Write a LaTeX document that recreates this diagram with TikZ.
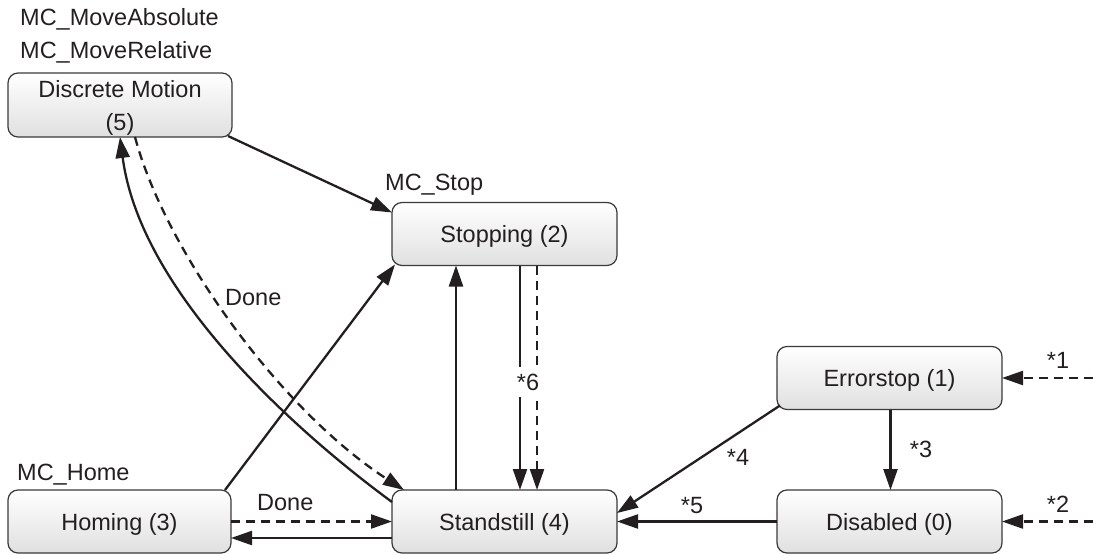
\documentclass[tikz,border=0pt]{standalone}
\usepackage{fontspec}
\setmainfont{Liberation Sans}
\usetikzlibrary{arrows.meta}
\definecolor{ink}{HTML}{231F20}
\definecolor{boxline}{HTML}{3A3A3A}
\definecolor{boxbot}{HTML}{E0E0E0}
\newcommand{\diafont}{\fontsize{23.5}{33}\selectfont}
\begin{document}
\begin{tikzpicture}[x=1pt,y=-1pt,
  statebox/.style={draw=boxline, line width=1.2pt, rounded corners=10pt,
    top color=white, bottom color=boxbot, minimum width=225pt, minimum height=63pt,
    outer sep=0pt, align=center, text=ink, font=\diafont, text depth=0pt},
  arr/.style={draw=ink, line width=2.3pt, -{Triangle[length=21pt,width=14pt]}},
  dashline/.style={dash pattern=on 9pt off 6pt},
  lbl/.style={text=ink, font=\diafont, inner sep=0pt, anchor=base},
  lblw/.style={text=ink, font=\diafont, inner sep=0pt, anchor=base west}]
\useasboundingbox (0,0) rectangle (1093,554);
% states
\node[statebox, minimum width=224pt, minimum height=64pt] (disc) at (120,105) {Discrete Motion\\(5)};
\node[statebox] (stop) at (504.5,234) {Stopping (2)};
\node[statebox] (stand) at (504.5,521.5) {Standstill (4)};
\node[statebox, minimum width=223pt] (hom) at (119.5,521.5) {Homing (3)};
\node[statebox] (err) at (889.5,378) {Errorstop (1)};
\node[statebox] (dis) at (889.5,521.5) {Disabled (0)};
% free ends
\coordinate (in1) at (1093,378);
\coordinate (in2) at (1093,521.5);
% labels
\node[lblw] (lmabs) at (20,25) {MC\_MoveAbsolute};
\node[lblw] (lmrel) at (20,58) {MC\_MoveRelative};
\node[lblw] (lstop) at (385,190) {MC\_Stop};
\node[lblw] (lhome) at (17,480) {MC\_Home};
% connectors
\draw[arr] ([xshift=-4pt,yshift=1pt]disc.south east) -- ([yshift=-10pt]stop.north west);
\draw[arr] ([xshift=-6pt]hom.north east) -- ([xshift=3pt,yshift=1pt]stop.south west);
\draw[arr] ([xshift=-48.5pt]stand.north) -- ([xshift=-48.5pt]stop.south);
\draw[arr] ([xshift=15.5pt]stop.south) -- ([xshift=15.5pt]stand.north);
\draw[arr,dashline] ([xshift=32.5pt]stop.south) -- ([xshift=32.5pt]stand.north);
\draw[arr] ([yshift=19.5pt]stand.west) .. controls (290,427) and (140,290) .. (disc.south);
\draw[arr,dashline] ([xshift=15pt]disc.south) .. controls (165,250) and (280,410) .. ([xshift=12pt]stand.north west);
\draw[arr,dashline] (hom.east) -- (stand.west);
\draw[arr] ([yshift=-16.5pt]stand.west) -- ([yshift=-16.5pt]hom.east);
\draw[arr] ([xshift=3pt,yshift=4pt]err.south west) -- ([yshift=8.5pt]stand.east);
\draw[arr] ([xshift=1pt]err.south) -- ([xshift=1pt]dis.north);
\draw[arr] (dis.west) -- (stand.east);
\draw[arr,dashline] (in1) -- (err.east);
\draw[arr,dashline] (in2) -- (dis.east);
% connector labels
\node[lblw] (ldone1) at (225,305.5) {Done};
\node[lblw] (ldone2) at (257,510) {Done};
\node[lbl, fill=white, inner xsep=1pt, inner ysep=7pt] (l6) at (528,390) {*6};
\node[lbl] (l4) at (738,465) {*4};
\node[lbl] (l3) at (921,457) {*3};
\node[lbl] (l5) at (692,513) {*5};
\node[lbl] (l1) at (1058,368) {*1};
\node[lbl] (l2) at (1058,512) {*2};
\end{tikzpicture}
\end{document}
